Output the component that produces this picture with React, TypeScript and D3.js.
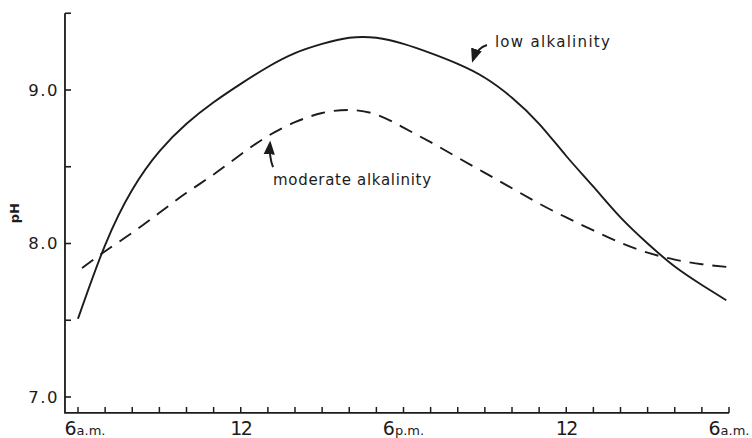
import React from "react";
import * as d3 from "d3";

const W = 752;
const H = 438;

// hours after 6 a.m.
const HOURS_LOW = [0, 1, 2, 3, 4, 5, 6, 7, 8, 9, 10, 11, 12, 13, 14, 15, 16, 17, 18, 19, 20, 21, 22, 23, 23.9];
const PH_LOW = [7.51, 7.99, 8.35, 8.6, 8.78, 8.92, 9.04, 9.15, 9.24, 9.3, 9.34, 9.34, 9.3, 9.24, 9.17, 9.08, 8.95, 8.78, 8.57, 8.37, 8.17, 8.0, 7.85, 7.73, 7.63];

const HOURS_MOD = [0.15, 1, 2, 3, 4, 5, 6, 7, 8, 9, 10, 11, 12, 13, 14, 15, 16, 17, 18, 19, 20, 21, 22, 23, 24.05];
const PH_MOD = [7.84, 7.95, 8.07, 8.2, 8.33, 8.45, 8.58, 8.7, 8.79, 8.85, 8.87, 8.84, 8.755, 8.66, 8.56, 8.46, 8.36, 8.26, 8.17, 8.085, 8.005, 7.94, 7.895, 7.865, 7.845];

const Y_TICKS = [7, 7.5, 8, 8.5, 9, 9.5];
const Y_LABELS = ["7.0", "8.0", "9.0"];
const Y_LABEL_VALUES = [7, 8, 9];

const X_TICKS = d3.range(0, 25);
const X_LABEL_HOURS = [0, 6, 12, 18, 24];
const X_LABEL_MAIN = ["6", "12", "6", "12", "6"];
const X_LABEL_SUB = ["a.m.", "", "p.m.", "", "a.m."];

const ANNOT_TEXT = ["low alkalinity", "moderate alkalinity"];
const ANNOT_HOUR = [15.37, 7.19];
const ANNOT_PH = [9.28, 8.38];

export default function App() {
  const x = d3.scaleLinear().domain([0, 24]).range([78, 729]);
  const y = d3.scaleLinear().domain([7, 9]).range([397, 90]);
  const axisLeft = x(-0.48);
  const axisBottom = y(6.896);
  const axisTop = y(9.5);

  const line = d3
    .line<[number, number]>()
    .x((d) => x(d[0]))
    .y((d) => y(d[1]))
    .curve(d3.curveNatural);

  const lowPath = line(HOURS_LOW.map((h, i) => [h, PH_LOW[i]]) as [number, number][]) || "";
  const modPath = line(HOURS_MOD.map((h, i) => [h, PH_MOD[i]]) as [number, number][]) || "";

  const ink = "#1c1c1c";
  const font = "'DejaVu Sans', sans-serif";

  const lowX = x(ANNOT_HOUR[0]);
  const lowY = y(ANNOT_PH[0]);
  const modX = x(ANNOT_HOUR[1]);
  const modY = y(ANNOT_PH[1]);

  return (
    <svg
      width={W}
      height={H}
      style={{ position: "absolute", left: 0, top: 0, background: "#fff" }}
    >
      <defs>
        <marker id="ah" viewBox="0 0 10 10" refX="8" refY="5" markerWidth="7" markerHeight="7" orient="auto-start-reverse">
          <path d="M0,1 L10,5 L0,9 z" fill={ink} />
        </marker>
      </defs>

      {/* axes */}
      <path
        d={`M${axisLeft},${axisTop} V${axisBottom} H${x(24)}`}
        fill="none"
        stroke={ink}
        strokeWidth={1.8}
      />
      {Y_TICKS.map((t) => (
        <line key={"yt" + t} x1={axisLeft} x2={axisLeft + 6} y1={y(t)} y2={y(t)} stroke={ink} strokeWidth={1.6} />
      ))}
      {X_TICKS.map((t) => (
        <line key={"xt" + t} x1={x(t)} x2={x(t)} y1={axisBottom} y2={axisBottom - 6} stroke={ink} strokeWidth={1.5} />
      ))}

      {Y_LABEL_VALUES.map((v, i) => (
        <text
          key={"yl" + v}
          x={axisLeft - 6}
          y={y(v)}
          dy="0.36em"
          textAnchor="end"
          fontFamily={font}
          fontSize={16.5}
          letterSpacing={1.5}
          fill={ink}
        >
          {Y_LABELS[i]}
        </text>
      ))}

      <text
        transform={`translate(19,${(y(8) + y(8.5)) / 2 + 8}) rotate(-90)`}
        textAnchor="middle"
        fontFamily={font}
        fontSize={13}
        fontWeight="bold"
        fill={ink}
      >
        pH
      </text>

      {X_LABEL_HOURS.map((h, i) => (
        <text
          key={"xl" + h + i}
          x={x(h) + (i === 0 ? 7 : 0)}
          y={435}
          textAnchor="middle"
          fontFamily={font}
          fill={ink}
        >
          <tspan fontSize={19} letterSpacing={X_LABEL_MAIN[i] === "12" ? -1.5 : 0}>
            {X_LABEL_MAIN[i]}
          </tspan>
          {X_LABEL_SUB[i] ? <tspan fontSize={13}>{X_LABEL_SUB[i]}</tspan> : null}
        </text>
      ))}

      {/* curves */}
      <path d={lowPath} fill="none" stroke={ink} strokeWidth={1.9} />
      <path d={modPath} fill="none" stroke={ink} strokeWidth={1.9} strokeDasharray="14,9" />

      {/* annotations */}
      <text
        x={lowX}
        y={lowY}
        fontFamily={font}
        fontSize={15}
        textLength={115}
        lengthAdjust="spacing"
        fill={ink}
      >
        {ANNOT_TEXT[0]}
      </text>
      <path
        d={`M${lowX - 8},${lowY - 2} Q${lowX - 18},${lowY + 1} ${lowX - 22},${lowY + 13}`}
        fill="none"
        stroke={ink}
        strokeWidth={2}
        markerEnd="url(#ah)"
      />

      <text
        x={modX}
        y={modY}
        fontFamily={font}
        fontSize={15}
        textLength={158}
        lengthAdjust="spacing"
        fill={ink}
      >
        {ANNOT_TEXT[1]}
      </text>
      <path
        d={`M${modX},${modY - 18} Q${modX - 4},${modY - 28} ${modX - 3},${modY - 42}`}
        fill="none"
        stroke={ink}
        strokeWidth={2}
        markerEnd="url(#ah)"
      />
    </svg>
  );
}
